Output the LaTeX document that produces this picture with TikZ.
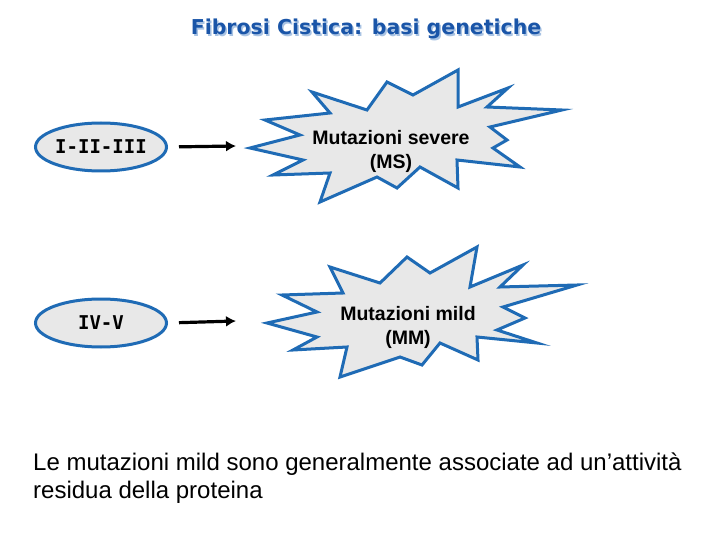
\documentclass[tikz,border=0pt]{standalone}
\usepackage{fontspec}
\setmainfont{Liberation Sans}
\newfontfamily\titlefont{DejaVu Sans}
\newfontfamily\monobold{DejaVu Sans Mono}
\usetikzlibrary{shapes.geometric,arrows.meta}
\definecolor{burstblue}{HTML}{1F6BB5}
\definecolor{burstfill}{HTML}{E8E8E8}
\definecolor{titleblue}{HTML}{1A55A8}
\definecolor{shadowblue}{HTML}{A9C3E3}
\tikzset{
  burst/.style={draw=burstblue, fill=burstfill, line width=3pt, line join=miter, miter limit=20},
  oval/.style={ellipse, draw=burstblue, fill=burstfill, line width=3pt, minimum width=131pt, minimum height=48pt, inner sep=0pt, font=\monobold\bfseries\fontsize{19}{21}\selectfont},
  arr/.style={line width=3.2pt, -{Latex[length=10pt,width=11pt]}},
  bursttext/.style={align=center, font=\bfseries\fontsize{19.5}{24}\selectfont, inner sep=0pt},
  titletext/.style={font=\titlefont\bfseries\fontsize{20.5}{24}\selectfont},
  notetext/.style={anchor=base west, inner sep=0pt, font=\fontsize{24}{28}\selectfont},
}
\begin{document}
\begin{tikzpicture}[x=1pt,y=-1pt]
\useasboundingbox[fill=white] (0,0) rectangle (720,540);
% title
\node[titletext, text=shadowblue] at (367.5,30.5) {Fibrosi Cistica: basi genetiche};
\node (title) [titletext, text=titleblue] at (366,29) {Fibrosi Cistica: basi genetiche};
% starburst 1
\filldraw[burst] (458,70) -- (458,107) -- (508,88) -- (487,107) -- (562,110) -- (490,127) -- (507,140) -- (493,148) -- (520,167) -- (457,160) -- (458,188) -- (420,167) -- (397,188) -- (377,177) -- (320,202) -- (330,173) -- (273,175) -- (303,160) -- (250,148) -- (300,135) -- (265,120) -- (330,113) -- (312,92) -- (367,110) -- (387,82) -- (413,95) -- cycle;
% starburst 2
\filldraw[burst] (477,247) -- (470,287) -- (523,265) -- (500,287) -- (577,285) -- (503,307) -- (525,318) -- (497,330) -- (537,343) -- (477,337) -- (478,360) -- (440,343) -- (422,365) -- (400,357) -- (340,377) -- (347,347) -- (293,350) -- (317,337) -- (267,323) -- (317,312) -- (282,295) -- (343,293) -- (330,267) -- (380,283) -- (407,257) -- (430,273) -- cycle;
\node (s1) [bursttext] at (391,151) {Mutazioni severe\\(MS)};
\node (s2) [bursttext] at (408,327) {Mutazioni mild\\(MM)};
% ovals
\node (e1) [oval] at (101,147) {I-II-III};
\node (e2) [oval] at (101,323) {IV-V};
\coordinate (t1) at (236,146);
\coordinate (t2) at (236,321);
\draw[arr, shorten <=11pt] (e1.east) -- (t1);
\draw[arr, shorten <=11pt] (e2.east) -- (t2);
% bottom text
\node (note1) [notetext] at (33,470) {Le mutazioni mild sono generalmente associate ad un’attività};
\node (note2) [notetext] at (33,498) {residua della proteina};
\end{tikzpicture}
\end{document}
